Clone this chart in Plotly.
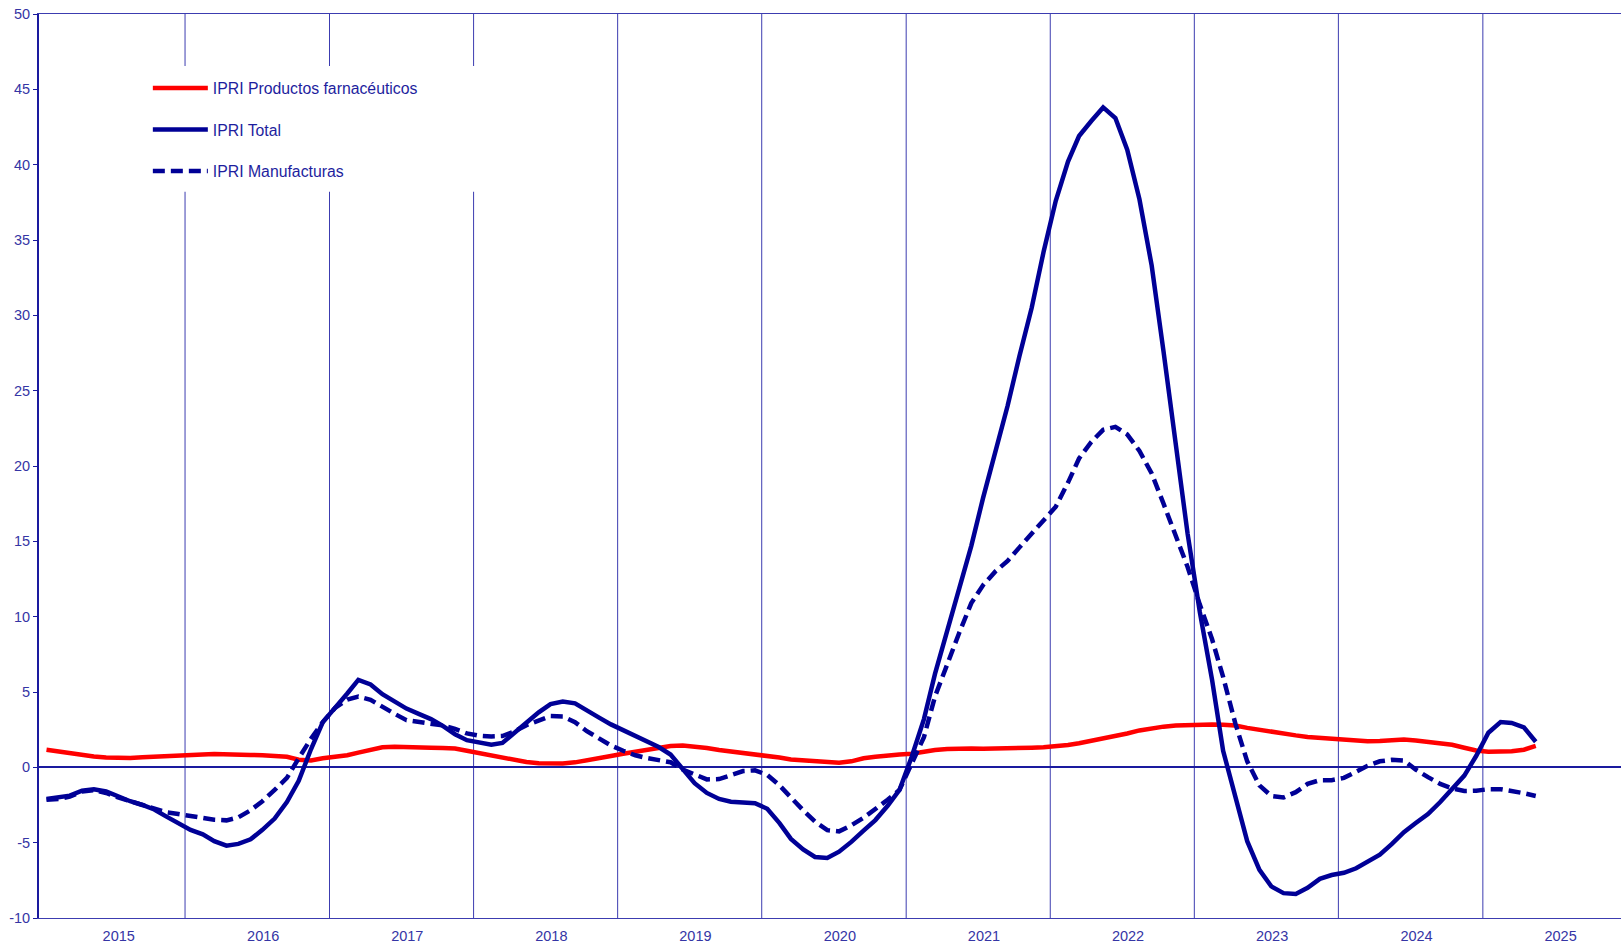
import plotly.graph_objects as go
import pandas as pd

# monthly observations, Jan 2015 - May 2025
months = pd.date_range('2015-01-01', periods=125, freq='MS') + pd.Timedelta(days=14)

farma = [
    1.17, 1.05, 0.92, 0.80, 0.72, 0.65, 0.60, 0.62, 0.67, 0.72, 0.76, 0.78,
    0.80, 0.85, 0.88, 0.88, 0.85, 0.82, 0.80, 0.75, 0.70, 0.50, 0.46, 0.60,
    0.70, 0.80, 0.98, 1.18, 1.33, 1.37, 1.37, 1.36, 1.30, 1.28, 1.25, 1.10,
    0.95, 0.80, 0.60, 0.45, 0.35, 0.27, 0.24, 0.26, 0.33, 0.45, 0.58, 0.75,
    0.90, 1.05, 1.20, 1.32, 1.42, 1.45, 1.40, 1.28, 1.15, 1.05, 0.95, 0.88,
    0.82, 0.65, 0.52, 0.45, 0.40, 0.32, 0.30, 0.40, 0.60, 0.70, 0.80, 0.85,
    0.90, 1.05, 1.15, 1.22, 1.25, 1.25, 1.23, 1.23, 1.25, 1.27, 1.30, 1.33,
    1.38, 1.48, 1.60, 1.75, 1.90, 2.07, 2.25, 2.45, 2.60, 2.70, 2.78, 2.82,
    2.87, 2.85, 2.83, 2.78, 2.62, 2.48, 2.35, 2.25, 2.12, 2.02, 1.95, 1.88,
    1.80, 1.75, 1.73, 1.75, 1.80, 1.84, 1.78, 1.70, 1.62, 1.50, 1.30, 1.12,
    1.03, 1.02, 1.07, 1.17, 1.42,
]

total = [
    -2.10, -2.00, -1.88, -1.55, -1.45, -1.60, -1.95, -2.25, -2.50, -2.80, -3.27, -3.70,
    -4.15, -4.45, -4.90, -5.20, -5.08, -4.78, -4.15, -3.40, -2.30, -0.90, 1.20, 3.00,
    3.90, 4.90, 5.80, 5.50, 4.85, 4.35, 3.90, 3.55, 3.20, 2.75, 2.20, 1.80,
    1.63, 1.50, 1.62, 2.28, 3.00, 3.65, 4.20, 4.37, 4.25, 3.75, 3.30, 2.85,
    2.45, 2.10, 1.75, 1.35, 0.85, -0.10, -1.05, -1.70, -2.10, -2.28, -2.30, -2.38,
    -2.75, -3.70, -4.75, -5.45, -5.95, -6.02, -5.60, -4.95, -4.20, -3.50, -2.55, -1.50,
    0.70, 3.20, 6.20, 9.10, 11.70, 14.70, 17.90, 21.00, 24.00, 27.30, 30.50, 34.20,
    37.60, 40.20, 41.90, 42.90, 43.80, 43.10, 41.00, 37.70, 33.30, 27.60, 21.50, 15.50,
    10.30, 5.80, 1.10, -2.10, -4.90, -6.80, -7.90, -8.35, -8.40, -8.00, -7.40, -7.15,
    -7.00, -6.70, -6.25, -5.80, -5.10, -4.30, -3.70, -3.10, -2.30, -1.45, -0.55, 0.75,
    2.30, 3.00, 2.95, 2.65, 1.70,
]

manuf = [
    -2.15, -2.10, -1.95, -1.60, -1.52, -1.70, -2.00, -2.25, -2.55, -2.80, -2.98, -3.10,
    -3.25, -3.40, -3.48, -3.52, -3.32, -2.85, -2.25, -1.50, -0.70, 0.60, 1.90, 3.00,
    3.94, 4.50, 4.70, 4.48, 4.00, 3.55, 3.13, 3.00, 2.90, 2.78, 2.55, 2.25,
    2.10, 2.05, 2.08, 2.39, 2.80, 3.13, 3.40, 3.38, 3.00, 2.40, 1.95, 1.45,
    1.10, 0.80, 0.62, 0.47, 0.34, -0.15, -0.50, -0.80, -0.78, -0.55, -0.25, -0.20,
    -0.50, -1.20, -2.05, -2.85, -3.60, -4.17, -4.25, -3.85, -3.35, -2.80, -2.15, -1.50,
    0.20, 2.00, 4.70, 6.90, 8.90, 10.90, 12.10, 13.00, 13.70, 14.60, 15.50, 16.40,
    17.30, 18.90, 20.50, 21.60, 22.40, 22.60, 22.10, 21.00, 19.50, 17.50, 15.30, 13.30,
    10.80, 8.50, 6.00, 2.90, 0.40, -1.20, -1.90, -2.00, -1.65, -1.10, -0.85, -0.85,
    -0.70, -0.30, 0.10, 0.40, 0.50, 0.45, -0.15, -0.65, -1.10, -1.40, -1.57, -1.55,
    -1.45, -1.45, -1.55, -1.72, -1.90,
]

years = list(range(2015, 2026))
year_labels = [str(y) for y in years]
y_ticks = list(range(-10, 55, 5))
y_labels = [str(v) for v in y_ticks]  # plain hyphen minus, as in the original

NAVY = '#000096'
GRID = '#3C3CB0'
TXT = '#3535A5'

fig = go.Figure()
fig.add_trace(go.Scatter(x=months, y=farma, mode='lines', name='IPRI Productos farnacéuticos',
                         legendgroup='a', line=dict(width=4.5, color='#FF0000')))
fig.add_trace(go.Scatter(x=months, y=total, mode='lines', name='IPRI Total',
                         legendgroup='b', line=dict(width=4.5, color=NAVY)))
fig.add_trace(go.Scatter(x=months, y=manuf, mode='lines', name='IPRI Manufacturas',
                         legendgroup='c', line=dict(width=4.5, color=NAVY, dash='12px,6px')))

# yearly vertical grid lines
shapes = []
for y in years[1:]:
    shapes.append(dict(type='line', xref='x', yref='paper', x0=f'{y}-01-01', x1=f'{y}-01-01',
                       y0=0, y1=1, layer='below', line=dict(color=GRID, width=1)))
# white box behind the legend
shapes.append(dict(type='rect', xref='x', yref='y', x0='2015-09-10', x1='2018-02-05',
                   y0=38.2, y1=46.55, layer='below', fillcolor='white', line=dict(width=0)))

fig.update_layout(
    width=1621, height=944,
    margin=dict(l=39, r=0, t=14, b=26),
    plot_bgcolor='white',
    paper_bgcolor='white',
    font=dict(family='Liberation Sans, Arial, sans-serif', color=TXT, size=14),
    shapes=shapes,
    legend=dict(x=0.0688, y=0.9367, xanchor='left', yanchor='top',
                bgcolor='rgba(0,0,0,0)', traceorder='grouped', tracegroupgap=18,
                itemwidth=55, font=dict(size=15.8, color='#1E1E9E')),
)
fig.update_xaxes(
    range=['2014-12-27', '2025-12-17'], automargin=False,
    tickvals=[f'{y}-07-17' for y in years], ticktext=year_labels,
    ticks='', ticklabelstandoff=5, showgrid=False, zeroline=False,
    showline=True, linecolor=GRID, linewidth=1, mirror=True,
    tickfont=dict(size=14.5, color=TXT),
)
fig.update_yaxes(
    range=[-10, 50], tickvals=y_ticks, ticktext=y_labels, automargin=False,
    ticks='outside', ticklen=4, tickcolor='#1A1A9E', tickwidth=1,
    showgrid=False, zeroline=True, zerolinecolor='#1A1A9E', zerolinewidth=1.5,
    showline=True, linecolor='#1A1A9E', linewidth=2,
    tickfont=dict(size=14.5, color=TXT),
)

# the page's default body margin would shift the fixed-size figure
fig.write_html('out.html', config={'displayModeBar': False},
               post_script="document.body.style.margin='0';document.body.style.overflow='hidden';")
